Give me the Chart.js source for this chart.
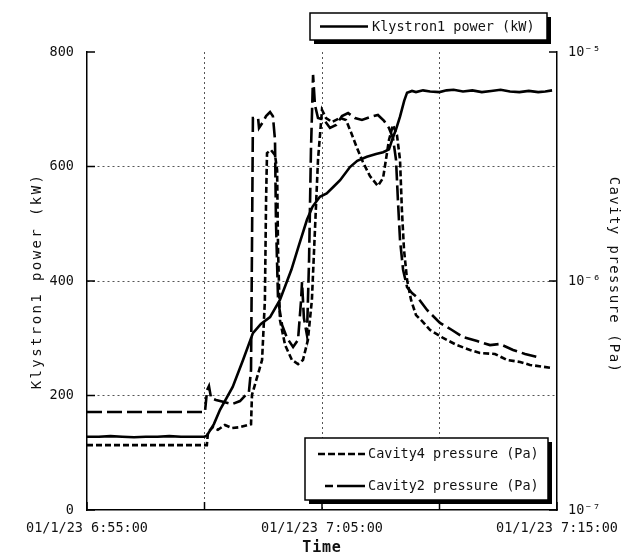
<!DOCTYPE html>
<html>
<head>
<meta charset="utf-8">
<script src="https://cdn.jsdelivr.net/npm/chart.js@4.4.0/dist/chart.umd.min.js"></script>
<style>
  html, body { margin: 0; padding: 0; background: #fff; }
  #wrap { width: 634px; height: 556px; }
</style>
</head>
<body>
<div id="wrap"><canvas id="c" width="634" height="556"></canvas></div>
<script>
// Time axis in minutes after 01/1/23 6:55:00
const timeTicks = [0, 5, 10, 15, 20];
const timeLabels = { 0: '01/1/23 6:55:00', 10: '01/1/23 7:05:00', 20: '01/1/23 7:15:00' };
const powerTicks = [0, 200, 400, 600, 800];
const pressureTicks = [1e-7, 1e-6, 1e-5];
const pressureLabels = ['10⁻⁷', '10⁻⁶', '10⁻⁵'];

// Klystron1 power (kW)
const klystronTime = [0, 0.5, 1, 1.5, 2, 2.5, 3, 3.5, 4, 4.5,
  5.0, 5.1, 5.4, 5.66, 6.2, 6.64, 7.06, 7.4, 7.79, 8.21,
  8.7, 9.0, 9.36, 9.6, 9.91, 10.2, 10.5, 10.77, 11.19, 11.5,
  11.91, 12.3, 12.6, 12.85, 12.98, 13.15, 13.32, 13.5, 13.62, 13.83,
  14.0, 14.3, 14.6, 15.0, 15.3, 15.6, 16.0, 16.4, 16.8, 17.2,
  17.6, 18.0, 18.4, 18.8, 19.2, 19.5, 19.79];
const klystronPower = [128, 128, 129, 128, 127, 128, 128, 129, 128, 128,
  128, 130, 150, 175, 215, 262, 309, 325, 337, 367,
  420, 460, 507, 530, 547, 553, 565, 576, 599, 610,
  617, 622, 625, 630, 646, 665, 687, 715, 729, 732,
  730, 733, 731, 730, 733, 734, 731, 733, 730, 732,
  734, 731, 730, 732, 730, 731, 733];

// Cavity4 pressure (Pa)
const cav4Time = [0, 5.1, 5.15, 5.36, 5.57, 5.87, 6.17, 6.51, 6.85, 6.98,
  7.02, 7.45, 7.57, 7.62, 7.66, 7.83, 8.0, 8.09, 8.13, 8.21,
  8.43, 8.72, 8.98, 9.19, 9.40, 9.57, 9.70, 9.83, 10.0, 10.17,
  10.43, 10.77, 11.02, 11.23, 11.49, 11.74, 12.04, 12.38, 12.60, 12.72,
  12.85, 13.02, 13.19, 13.32, 13.40, 13.49, 13.62, 13.79, 14.0, 14.30,
  14.60, 15.15, 15.74, 16.30, 16.72, 17.36, 17.87, 18.43, 18.85, 19.79];
const cav4Pressure = [1.92e-7, 1.92e-7, 2.19e-7, 2.30e-7, 2.24e-7, 2.35e-7, 2.28e-7, 2.30e-7, 2.35e-7, 2.37e-7,
  3.18e-7, 4.52e-7, 8.26e-7, 2.26e-6, 3.62e-6, 3.73e-6, 3.55e-6, 3.05e-6, 1.37e-6, 6.76e-7,
  5.25e-7, 4.52e-7, 4.34e-7, 4.52e-7, 5.53e-7, 8.26e-7, 1.67e-6, 3.38e-6, 5.58e-6, 5.15e-6,
  4.95e-6, 5.15e-6, 5.05e-6, 4.47e-6, 3.81e-6, 3.31e-6, 2.87e-6, 2.60e-6, 2.82e-6, 3.38e-6,
  4.13e-6, 4.80e-6, 4.34e-6, 3.38e-6, 2.04e-6, 1.37e-6, 1.01e-6, 8.26e-7, 7.10e-7, 6.62e-7,
  6.11e-7, 5.64e-7, 5.25e-7, 5.00e-7, 4.85e-7, 4.80e-7, 4.52e-7, 4.43e-7, 4.30e-7, 4.17e-7];

// Cavity2 pressure (Pa)
const cav2Time = [0, 5.02, 5.11, 5.19, 5.28, 5.49, 5.83, 6.17, 6.51, 6.72,
  6.89, 6.98, 7.02, 7.06, 7.28, 7.32, 7.49, 7.62, 7.79, 7.91,
  8.0, 8.04, 8.13, 8.30, 8.51, 8.77, 8.98, 9.11, 9.15, 9.23,
  9.36, 9.45, 9.53, 9.62, 9.70, 9.83, 10.09, 10.34, 10.6, 10.85,
  11.11, 11.4, 11.70, 12.04, 12.38, 12.64, 12.85, 13.02, 13.15, 13.23,
  13.32, 13.45, 13.62, 13.83, 14.09, 14.47, 15.02, 15.53, 16.0, 16.6,
  17.15, 17.57, 18.13, 18.64, 19.15];
const cav2Pressure = [2.68e-7, 2.68e-7, 3.34e-7, 3.48e-7, 3.08e-7, 3.02e-7, 2.96e-7, 2.90e-7, 2.99e-7, 3.15e-7,
  3.28e-7, 4.09e-7, 1.37e-6, 5.15e-6, 5.15e-6, 4.66e-6, 4.95e-6, 5.25e-6, 5.47e-6, 5.25e-6,
  4.13e-6, 1.85e-6, 8.26e-7, 6.43e-7, 5.64e-7, 5.15e-7, 5.53e-7, 8.26e-7, 9.90e-7, 6.89e-7,
  5.81e-7, 1.24e-6, 3.73e-6, 7.94e-6, 5.87e-6, 5.15e-6, 5.05e-6, 4.66e-6, 4.80e-6, 5.25e-6,
  5.41e-6, 5.15e-6, 5.05e-6, 5.20e-6, 5.31e-6, 5.00e-6, 4.66e-6, 4.21e-6, 3.38e-6, 2.26e-6,
  1.51e-6, 1.12e-6, 9.41e-7, 8.86e-7, 8.43e-7, 7.47e-7, 6.56e-7, 6.11e-7, 5.69e-7, 5.47e-7,
  5.25e-7, 5.31e-7, 5.00e-7, 4.80e-7, 4.66e-7];

const MONO = '"DejaVu Sans Mono", "Liberation Mono", monospace';
const pairs = (xs, ys) => xs.map((x, i) => ({ x: x, y: ys[i] }));

function boxWithShadow(ctx, x, y, w, h) {
  ctx.fillStyle = '#000';
  ctx.fillRect(x + 4, y + 4, w, h);
  ctx.fillStyle = '#fff';
  ctx.fillRect(x, y, w, h);
  ctx.lineWidth = 1.5;
  ctx.strokeStyle = '#000';
  ctx.strokeRect(x, y, w, h);
}

function sampleLine(ctx, x0, x1, y, dash) {
  ctx.save();
  ctx.setLineDash(dash);
  ctx.lineWidth = 2.6;
  ctx.strokeStyle = '#000';
  ctx.beginPath();
  ctx.moveTo(x1, y);
  ctx.lineTo(x0, y);
  ctx.stroke();
  ctx.restore();
}

function spacedText(ctx, text, x, y, rot, font, spacing) {
  ctx.save();
  ctx.translate(x, y);
  ctx.rotate(rot);
  ctx.font = font;
  ctx.letterSpacing = spacing;
  ctx.fillStyle = '#111';
  ctx.textAlign = 'center';
  ctx.textBaseline = 'middle';
  ctx.fillText(text, 0, 0);
  ctx.restore();
}

// Inner tick marks, axis titles and the two framed legends
const decorations = {
  id: 'decorations',
  afterDraw(chart) {
    const { ctx, chartArea: a, scales } = chart;
    ctx.save();
    ctx.strokeStyle = '#000';
    ctx.lineWidth = 1.5;
    ctx.beginPath();
    powerTicks.forEach(v => {
      const y = scales.y.getPixelForValue(v);
      ctx.moveTo(a.left, y); ctx.lineTo(a.left + 8, y);
    });
    timeTicks.forEach(v => {
      const x = scales.x.getPixelForValue(v);
      ctx.moveTo(x, a.bottom); ctx.lineTo(x, a.bottom - 8);
    });
    pressureTicks.forEach(v => {
      const y = scales.y2.getPixelForValue(v);
      ctx.moveTo(a.right, y); ctx.lineTo(a.right - 8, y);
    });
    ctx.stroke();

    const mid = (a.top + a.bottom) / 2;
    spacedText(ctx, 'Klystron1 power (kW)', 37, mid, -Math.PI / 2, '14px ' + MONO, '2.4px');
    spacedText(ctx, 'Cavity pressure (Pa)', 614, mid - 6, Math.PI / 2, '14px ' + MONO, '1.4px');
    spacedText(ctx, 'Time', (a.left + a.right) / 2, 548, 0, 'bold 15px ' + MONO, '0.8px');

    ctx.font = '13.5px ' + MONO;
    ctx.textBaseline = 'middle';
    ctx.textAlign = 'left';

    boxWithShadow(ctx, 310, 13, 237, 27);
    sampleLine(ctx, 320, 368, 26.5, []);
    ctx.fillStyle = '#111';
    ctx.fillText(chart.data.datasets[0].label, 372, 27);

    boxWithShadow(ctx, 305, 438, 243, 62);
    sampleLine(ctx, 315, 365, 454, [7, 3]);
    sampleLine(ctx, 325, 365, 486, [28, 4]);
    ctx.fillStyle = '#111';
    ctx.fillText(chart.data.datasets[1].label, 368, 454);
    ctx.fillText(chart.data.datasets[2].label, 368, 486);
    ctx.restore();
  }
};

const gridDotted = (vals) => (c) => (c.tick && vals.includes(c.tick.value)) ? '#555' : 'rgba(0,0,0,0)';

new Chart(document.getElementById('c'), {
  type: 'line',
  data: {
    datasets: [
      { label: 'Klystron1 power (kW)', data: pairs(klystronTime, klystronPower), yAxisID: 'y',
        borderColor: '#000', borderWidth: 2.6, pointRadius: 0, tension: 0 },
      { label: 'Cavity4 pressure (Pa)', data: pairs(cav4Time, cav4Pressure), yAxisID: 'y2',
        borderColor: '#000', borderWidth: 2.6, borderDash: [6, 3], pointRadius: 0, tension: 0 },
      { label: 'Cavity2 pressure (Pa)', data: pairs(cav2Time, cav2Pressure), yAxisID: 'y2',
        borderColor: '#000', borderWidth: 2.6, borderDash: [15, 5], pointRadius: 0, tension: 0 }
    ]
  },
  options: {
    responsive: false,
    animation: false,
    devicePixelRatio: 1,
    layout: { padding: { top: 52, left: 0, right: 0, bottom: 0 } },
    plugins: { legend: { display: false }, tooltip: { enabled: false } },
    scales: {
      x: {
        type: 'linear', min: 0, max: 20,
        afterFit: (s) => { s.height = 46; },
        afterBuildTicks: (s) => { s.ticks = timeTicks.map(v => ({ value: v })); },
        ticks: {
          autoSkip: false, maxRotation: 0, padding: 10, color: '#111',
          font: { family: MONO, size: 13.5 },
          callback: (v) => timeLabels[v] || ''
        },
        grid: { drawTicks: false, color: gridDotted([5, 10, 15]), lineWidth: 1 },
        border: { display: true, color: '#000', width: 1.5, dash: [2, 3] }
      },
      y: {
        type: 'linear', position: 'left', min: 0, max: 800,
        afterFit: (s) => { s.width = 87; },
        afterBuildTicks: (s) => { s.ticks = powerTicks.map(v => ({ value: v })); },
        ticks: { padding: 13, color: '#111', font: { family: MONO, size: 13.5 } },
        grid: { drawTicks: false, color: gridDotted([200, 400, 600]), lineWidth: 1 },
        border: { display: true, color: '#000', width: 1.5, dash: [2, 3] }
      },
      y2: {
        type: 'logarithmic', position: 'right', min: 1e-7, max: 1e-5,
        afterFit: (s) => { s.width = 77; },
        afterBuildTicks: (s) => { s.ticks = pressureTicks.map(v => ({ value: v })); },
        ticks: {
          padding: 11, color: '#111', font: { family: MONO, size: 13.5 },
          callback: (v) => pressureLabels[pressureTicks.findIndex(p => Math.abs(p - v) / p < 1e-6)] || ''
        },
        grid: { display: false, drawTicks: false },
        border: { display: true, color: '#000', width: 1.5 }
      }
    }
  },
  plugins: [decorations]
});
</script>
</body>
</html>
